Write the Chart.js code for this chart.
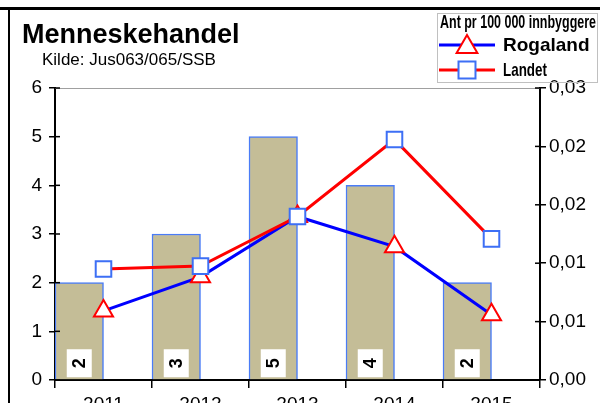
<!DOCTYPE html>
<html>
<head>
<meta charset="utf-8">
<script src="https://cdn.jsdelivr.net/npm/chart.js@4/dist/chart.umd.min.js"></script>
<style>
  html, body { margin: 0; padding: 0; background: #fff; overflow: hidden; }
  #wrap { width: 600px; height: 403px; overflow: hidden; position: relative; }
  canvas { position: absolute; left: 0; top: 0; }
</style>
</head>
<body>
<div id="wrap"><canvas id="myChart" width="600" height="430"></canvas></div>
<script>
// data
const years = ['2011', '2012', '2013', '2014', '2015']
const antall = [2, 3, 5, 4, 2]
const rogaland = [0.0071, 0.0106, 0.0168, 0.0137, 0.0067]
const landet = [0.0114, 0.0117, 0.0168, 0.0247, 0.0145]

const titleText = 'Menneskehandel'
const sourceText = 'Kilde: Jus063/065/SSB'
const legendTitle = 'Ant pr 100 000 innbyggere'
const seriesNames = ['Rogaland', 'Landet']

const FONT = '"Liberation Sans", Arial, sans-serif'

const extras = {
  id: 'extras',
  beforeDraw(chart) {
    const ctx = chart.ctx
    ctx.save()
    ctx.fillStyle = '#fff'
    ctx.fillRect(0, 0, chart.width, chart.height)
    ctx.restore()
  },
  afterDraw(chart) {
    const ctx = chart.ctx
    const area = chart.chartArea
    ctx.save()

    // frame around the chart
    ctx.fillStyle = '#000'
    ctx.fillRect(0, 7, 600, 3)
    ctx.fillRect(8, 7, 2, 420)

    // grey line on top of plot area
    ctx.strokeStyle = '#a0a0a0'
    ctx.lineWidth = 1
    ctx.beginPath()
    ctx.moveTo(area.left, area.top + 0.5)
    ctx.lineTo(area.right, area.top + 0.5)
    ctx.stroke()

    // inside part of the tick marks
    ctx.strokeStyle = '#000'
    ctx.lineWidth = 1.5
    const yl = chart.scales.y, yr = chart.scales.y2
    yl.ticks.forEach((t, i) => {
      const py = yl.getPixelForTick(i)
      ctx.beginPath(); ctx.moveTo(area.left, py); ctx.lineTo(area.left + 5, py); ctx.stroke()
    })
    yr.ticks.forEach((t, i) => {
      const py = yr.getPixelForTick(i)
      ctx.beginPath(); ctx.moveTo(area.right - 5, py); ctx.lineTo(area.right, py); ctx.stroke()
    })

    // titles
    ctx.fillStyle = '#000'
    ctx.textBaseline = 'alphabetic'
    ctx.textAlign = 'left'
    ctx.font = 'bold 27px ' + FONT
    ctx.fillText(titleText, 22, 43)
    ctx.font = '17px ' + FONT
    ctx.fillText(sourceText, 42, 65)

    // bar value labels
    const meta = chart.getDatasetMeta(0)
    meta.data.forEach((el, i) => {
      const bx = el.x
      const base = el.base
      ctx.fillStyle = '#fff'
      ctx.fillRect(bx - 12.5, base - 30, 25, 28)
      ctx.save()
      ctx.translate(bx, base - 16)
      ctx.rotate(-Math.PI / 2)
      ctx.fillStyle = '#000'
      ctx.font = 'bold 18px ' + FONT
      ctx.textAlign = 'center'
      ctx.textBaseline = 'middle'
      ctx.fillText(String(antall[i]), 0, 1)
      ctx.restore()
    })

    // legend
    ctx.strokeStyle = '#c0c0c0'
    ctx.lineWidth = 1
    ctx.strokeRect(437.5, 13.5, 160, 69)
    ctx.fillStyle = '#000'
    ctx.font = 'bold 18px ' + FONT
    ctx.textAlign = 'left'
    ctx.textBaseline = 'middle'
    ctx.fillText(legendTitle, 440, 23, 156)
    const rows = [chart.data.datasets[2], chart.data.datasets[3]]
    rows.forEach((ds, i) => {
      const ly = 45 + i * 25
      ctx.strokeStyle = ds.borderColor
      ctx.lineWidth = 3
      ctx.beginPath(); ctx.moveTo(439, ly); ctx.lineTo(495, ly); ctx.stroke()
      ctx.strokeStyle = ds.pointBorderColor
      ctx.fillStyle = ds.pointBackgroundColor
      ctx.lineWidth = ds.pointBorderWidth
      Chart.helpers.drawPoint(ctx, { pointStyle: ds.pointStyle, radius: ds.pointRadius + 1, rotation: 0, borderWidth: ds.pointBorderWidth }, 467, ly + (ds.pointStyle === 'triangle' ? 2 : 0))
      ctx.fillStyle = '#000'
      ctx.font = 'bold 19px ' + FONT
      ctx.fillText(seriesNames[i], 503, ly + 1, i === 0 ? 92 : 44)
    })

    ctx.restore()
  }
}

const ctx = document.getElementById('myChart')

new Chart(ctx, {
  type: 'bar',
  data: {
    labels: years,
    datasets: [
      {
        label: 'Antall',
        data: antall,
        yAxisID: 'y',
        backgroundColor: '#c4bd97',
        borderColor: '#4a7cf7',
        borderWidth: { top: 1.5, left: 1.5, right: 1.5, bottom: 0 },
        borderSkipped: 'bottom',
        categoryPercentage: 1,
        barPercentage: 1,
        order: 3
      },
      {
        // empty slot so the bars sit in the left half of each year
        label: '',
        data: years.map(() => null),
        yAxisID: 'y',
        categoryPercentage: 1,
        barPercentage: 1,
        order: 3
      },
      {
        type: 'line',
        label: seriesNames[0],
        data: rogaland,
        yAxisID: 'y2',
        borderColor: '#0000ff',
        borderWidth: 3,
        pointStyle: 'triangle',
        pointRadius: 11,
        pointBorderColor: '#ff0000',
        pointBackgroundColor: '#ffffff',
        pointBorderWidth: 2,
        tension: 0,
        order: 1
      },
      {
        type: 'line',
        label: seriesNames[1],
        data: landet,
        yAxisID: 'y2',
        borderColor: '#ff0000',
        borderWidth: 3,
        pointStyle: 'rect',
        pointRadius: 11,
        pointBorderColor: '#3d6ff5',
        pointBackgroundColor: '#ffffff',
        pointBorderWidth: 2,
        tension: 0,
        order: 0
      }
    ]
  },
  options: {
    responsive: false,
    devicePixelRatio: 1,
    animation: false,
    layout: { padding: { top: 88, left: 0, right: 0, bottom: 0 } },
    plugins: {
      legend: { display: false },
      tooltip: { enabled: false },
      title: { display: false }
    },
    scales: {
      x: {
        afterFit(scale) { scale.height = 50 },
        grid: { offset: true, drawOnChartArea: false, color: '#000', tickLength: 8, lineWidth: 1.5 },
        border: { color: '#000', width: 2 },
        ticks: { color: '#000', font: { family: FONT, size: 19 }, padding: 5, maxRotation: 0 }
      },
      y: {
        position: 'left',
        min: 0,
        max: 6,
        afterFit(scale) { scale.width = 55 },
        grid: { drawOnChartArea: false, color: '#000', tickLength: 6, lineWidth: 1.5 },
        border: { color: '#000', width: 2 },
        ticks: { stepSize: 1, color: '#000', font: { family: FONT, size: 19 }, padding: 7 }
      },
      y2: {
        position: 'right',
        min: 0,
        max: 0.03,
        afterFit(scale) { scale.width = 60 },
        grid: { drawOnChartArea: false, color: '#000', tickLength: 6, lineWidth: 1.5 },
        border: { color: '#000', width: 2 },
        ticks: {
          stepSize: 0.006,
          color: '#000',
          font: { family: FONT, size: 19 },
          padding: 3,
          callback: v => v.toFixed(2).replace('.', ',')
        }
      }
    }
  },
  plugins: [extras]
})
</script>
</body>
</html>
